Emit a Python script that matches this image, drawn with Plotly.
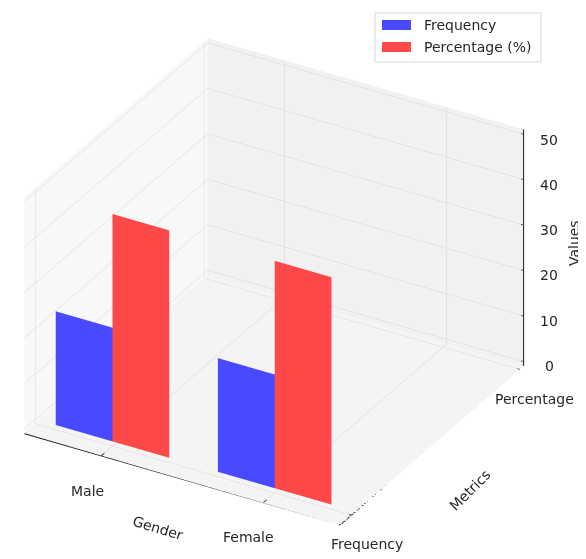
import plotly.graph_objects as go
import numpy as np

genders = ["Male", "Female"]
metrics = ["Frequency", "Percentage"]
frequency = [25, 25]
percentage = [50, 50]
series_names = ["Frequency", "Percentage (%)"]
series_colors = ["#4949ff", "#ff4949"]
z_ticks = [0, 10, 20, 30, 40, 50]

W, H = 586, 559
OFF = 8  # page margin of the html body (screen px)
width = 0.35
x = np.arange(len(genders))
y_pos = np.arange(len(metrics))

def flat_bar(xc, h, w):
    x0, x1 = xc - w / 2, xc + w / 2
    return dict(x=[x0, x1, x1, x0], y=[0, 0, 0, 0], z=[0, 0, h, h],
                i=[0, 0], j=[1, 2], k=[2, 3])

fig = go.Figure()
for s_idx, (vals, off) in enumerate([(frequency, -width / 2), (percentage, width / 2)]):
    for gi, v in enumerate(vals):
        b = flat_bar(x[gi] + off, v, width)
        fig.add_trace(go.Mesh3d(**b, color=series_colors[s_idx], flatshading=True,
                                lighting=dict(ambient=1, diffuse=0, specular=0, fresnel=0, roughness=1),
                                showlegend=False, hoverinfo="skip", showscale=False))

# axis limits (matplotlib-like margins and pane padding)
xmin, xmax = -width, len(genders) - 1 + width
xmarg = 0.05 * (xmax - xmin)
xmin, xmax = xmin - xmarg, xmax + xmarg
xpad = (xmax - xmin) / 48
ymin, ymax = -0.045, 1.0
ypad = (ymax - ymin) / 48
zmin, zmax = 0, max(percentage)
zpad = (zmax - zmin) / 48
xlo, xhi = xmin - xpad, xmax + xpad
ylo, yhi = ymin - ypad, ymax + ypad
zlo, zhi = zmin - zpad, zmax + zpad

# axis lines and ticks
ax_x, ax_y, ax_z = [], [], []
def add_seg(p, q):
    ax_x.extend([p[0], q[0], None]); ax_y.extend([p[1], q[1], None]); ax_z.extend([p[2], q[2], None])

add_seg((xlo, ylo, zlo), (xhi, ylo, zlo))
add_seg((xhi, ylo, zlo), (xhi, yhi, zlo))
add_seg((xhi, yhi, zlo), (xhi, yhi, zhi))
for xv in x:
    add_seg((xv, ylo + 0.02, zlo), (xv, ylo - 0.03, zlo))
for yv in y_pos:
    add_seg((xhi - 0.015, yv, zlo), (xhi + 0.035, yv, zlo))
for zv in z_ticks:
    add_seg((xhi - 0.015, yhi, zv), (xhi + 0.035, yhi, zv))
fig.add_trace(go.Scatter3d(x=ax_x, y=ax_y, z=ax_z, mode="lines", line=dict(color="#1a1a1a", width=2),
                           showlegend=False, hoverinfo="skip"))

# scene geometry (orthographic view, elev 30 / azim -60)
AX, AY, AZ = 1.334, 1.34, 1.0
DOM_X = [0.0, 0.908]
DOM_Y = [0.022, 1.0]
K = 272.0
CX = (DOM_X[0] + DOM_X[1]) / 2 * W + OFF
CY = (1 - (DOM_Y[0] + DOM_Y[1]) / 2) * H + OFF

def proj(xd, yd, zd):
    nx = ((xd - xlo) / (xhi - xlo) - 0.5) * AX
    ny = ((yd - ylo) / (yhi - ylo) - 0.5) * AY
    nz = ((zd - zlo) / (zhi - zlo) - 0.5) * AZ
    r = 0.866 * nx + 0.5 * ny
    u = -0.25 * nx + 0.433 * ny + 0.866 * nz
    return CX + K * r, CY - K * u

def paper(pxv, pyv):
    return (pxv - OFF) / W, 1 - (pyv - OFF) / H

tfont = dict(family="DejaVu Sans", size=14, color="#262626")

def label(pt, dxp, dyp, text, angle=0):
    ax_, ay_ = paper(pt[0] + dxp, pt[1] + dyp)
    fig.add_annotation(xref="paper", yref="paper", x=ax_, y=ay_,
                       text=text, showarrow=False, xanchor="center", yanchor="middle",
                       textangle=angle, font=tfont)

for xv, lab in zip(x, genders):
    label(proj(xv, ylo, zlo), -15, 36, lab)
for yv, lab in zip(y_pos, metrics):
    label(proj(xhi, yv, zlo), 16, 30, lab)
for zv in z_ticks:
    label(proj(xhi, yhi, zv), 27, 5, str(zv))
label(proj((xlo + xhi) / 2, ylo, zlo), -25, 50, "Gender", 17)
label(proj(xhi, (ylo + yhi) / 2, zlo), 39, 46, "Metrics", -45)
label(proj(xhi, yhi, (zlo + zhi) / 2), 52, -5, "Values", -90)

hidden = dict(showbackground=True, gridcolor="#d4d4d4", gridwidth=1,
              showline=False, ticks="", showticklabels=False, title_text="",
              zeroline=False, showspikes=False)

fig.update_layout(
    width=W, height=H, margin=dict(l=0, r=0, t=0, b=0),
    paper_bgcolor="white", font=dict(family="DejaVu Sans"),
    scene=dict(
        domain=dict(x=DOM_X, y=DOM_Y),
        xaxis=dict(hidden, range=[xlo, xhi], tickvals=list(x), backgroundcolor="#f8f8f8"),
        yaxis=dict(hidden, range=[ylo, yhi], tickvals=list(y_pos), backgroundcolor="#f1f1f1"),
        zaxis=dict(hidden, range=[zlo, zhi], tickvals=z_ticks, backgroundcolor="#f4f4f4"),
        aspectmode="manual", aspectratio=dict(x=AX, y=AY, z=AZ),
        camera=dict(projection=dict(type="orthographic"),
                    eye=dict(x=0.433 * 2, y=-0.75 * 2, z=0.5 * 2),
                    center=dict(x=0, y=0, z=0), up=dict(x=0, y=0, z=1)),
    ),
)

# legend drawn as shapes + text (screen-pixel layout converted to paper)
bx0, by0 = paper(375, 13)
bx1, by1 = paper(541, 62)
fig.add_shape(type="rect", xref="paper", yref="paper", x0=bx0, x1=bx1, y0=by1, y1=by0,
              line=dict(color="#d8d8d8", width=1), fillcolor="rgba(255,255,255,0.8)", layer="above")
for idx, name in enumerate(series_names):
    yc = 25 + idx * 22
    px0, py0 = paper(382, yc - 5)
    px1, py1 = paper(411, yc + 5)
    fig.add_shape(type="rect", xref="paper", yref="paper", x0=px0, x1=px1, y0=py1, y1=py0,
                  fillcolor=series_colors[idx], line=dict(width=0), layer="above")
    tx, ty = paper(422, yc)
    fig.add_annotation(xref="paper", yref="paper", x=tx, y=ty, text=name, showarrow=False,
                       xanchor="left", yanchor="middle", font=tfont)

fig.write_html("out.html")
